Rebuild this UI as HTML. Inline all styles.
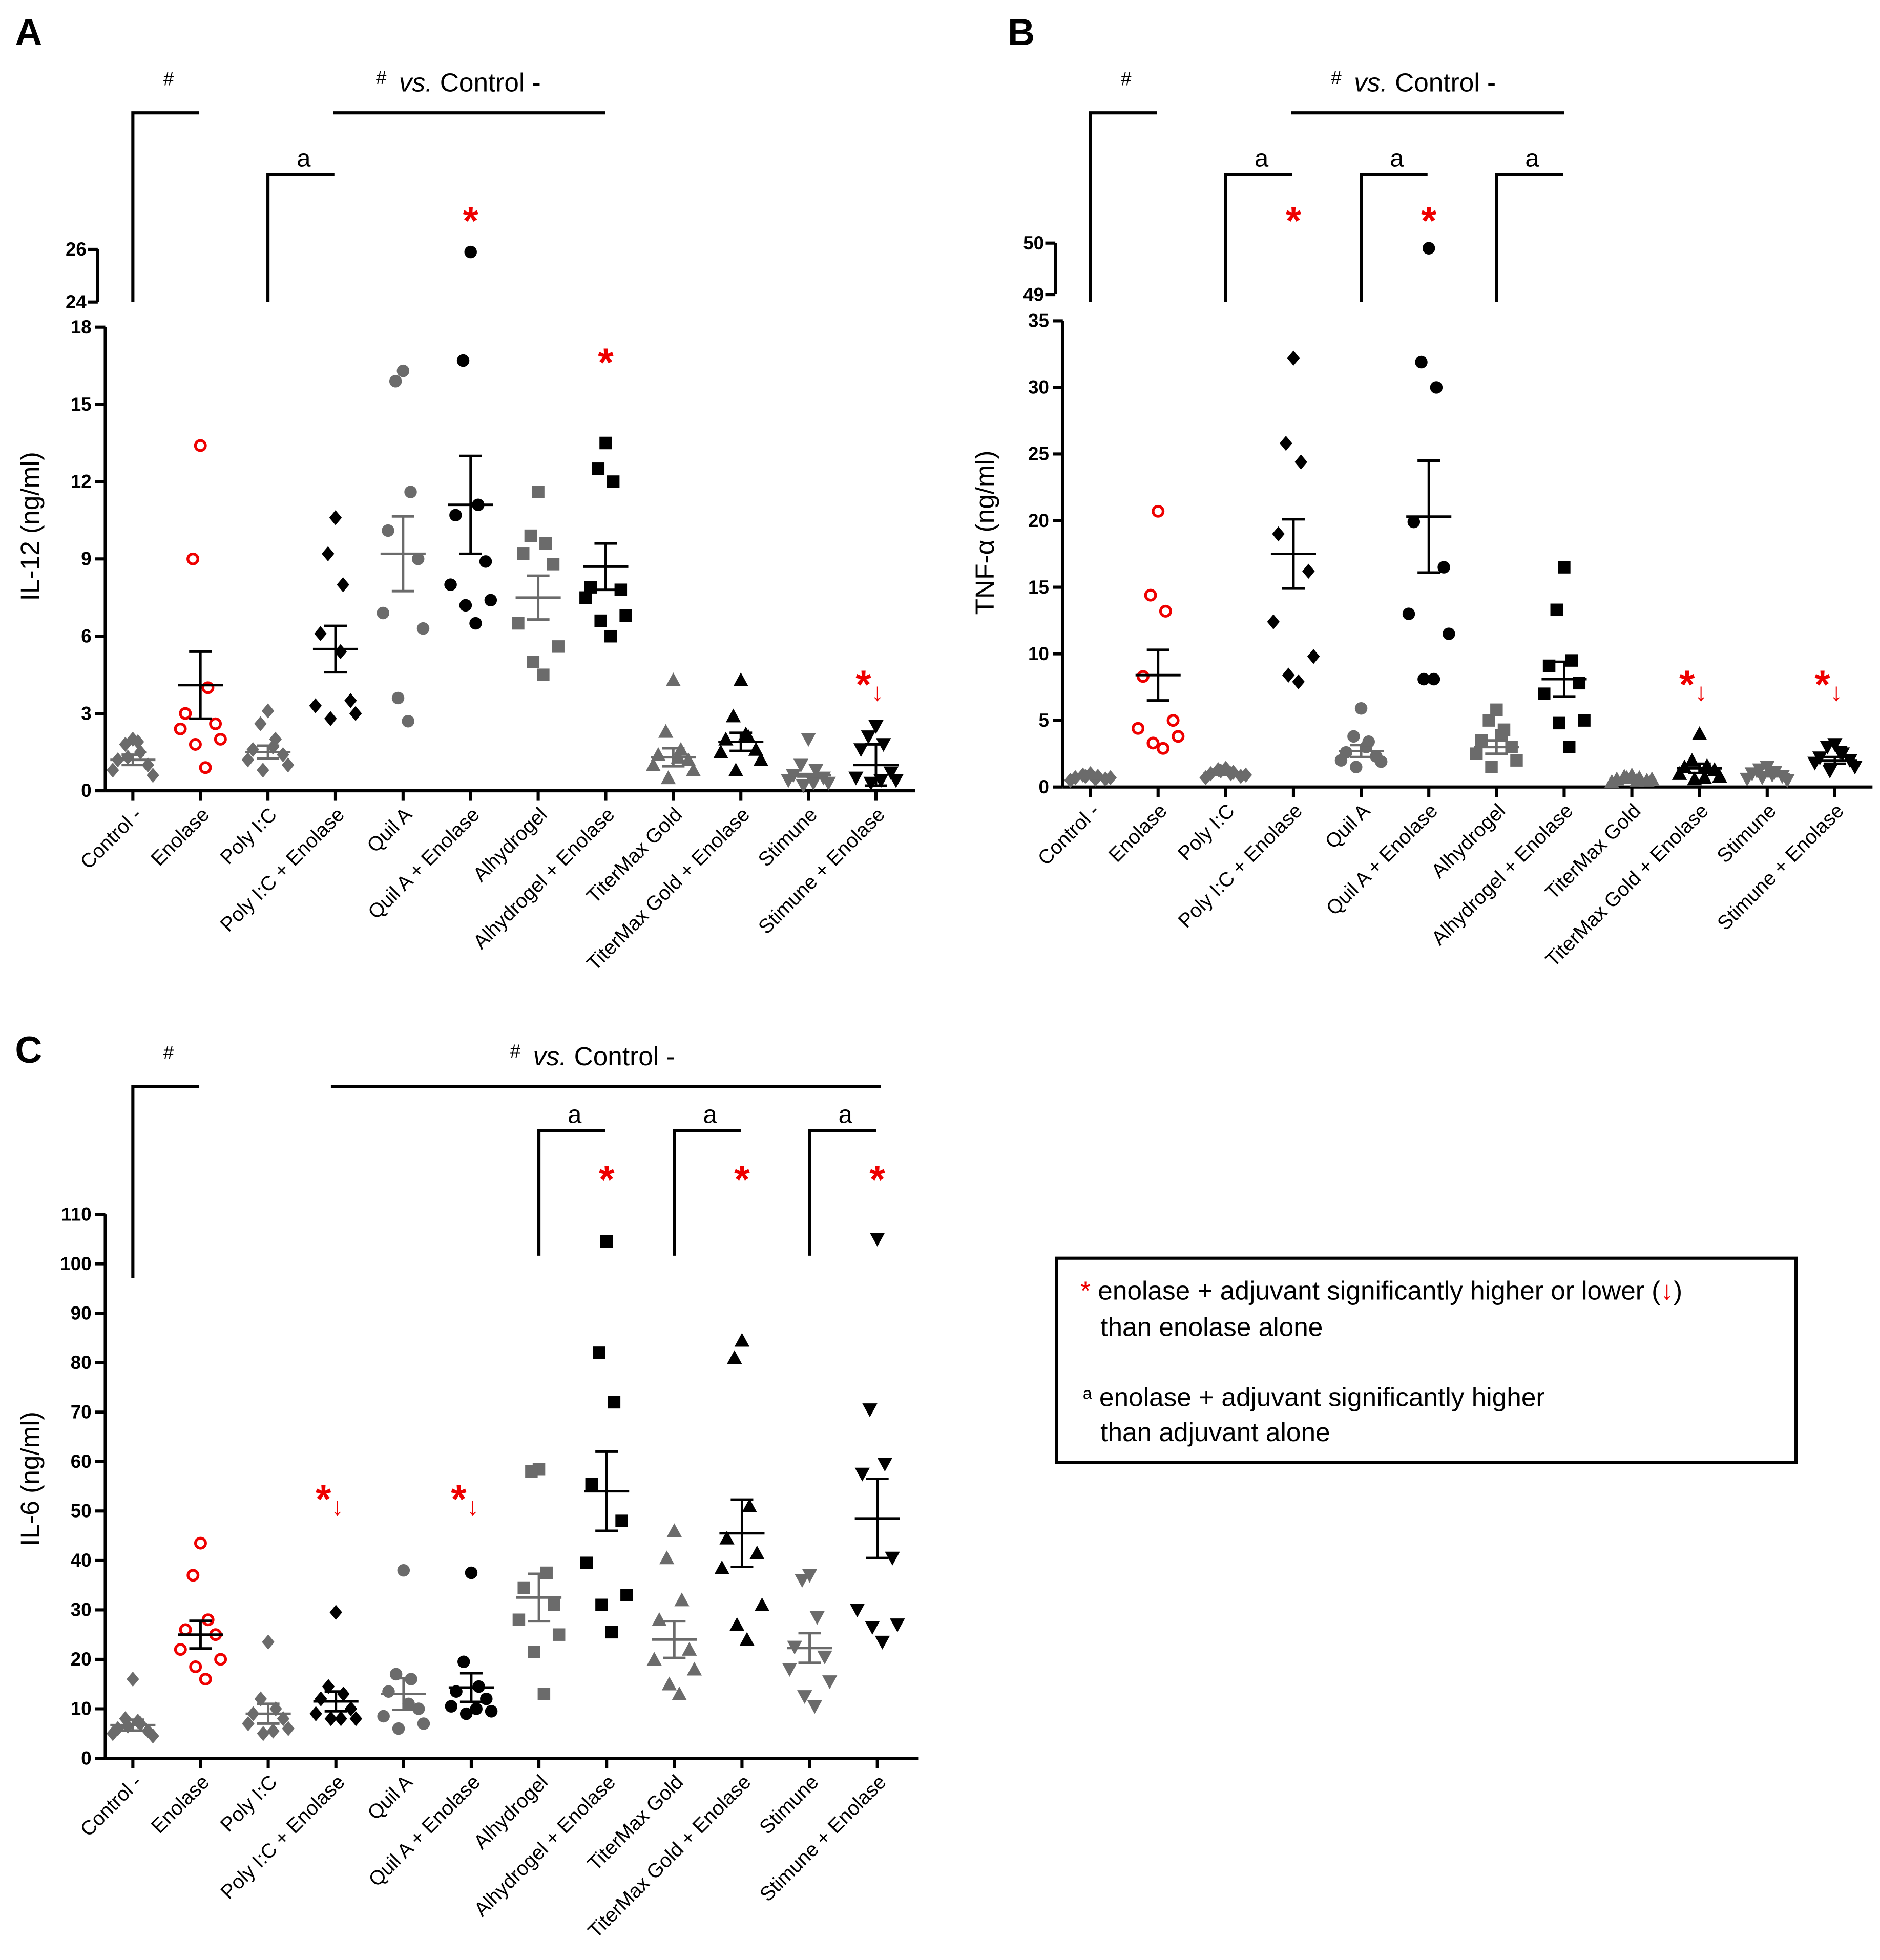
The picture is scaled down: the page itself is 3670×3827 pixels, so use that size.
<!DOCTYPE html>
<html><head><meta charset="utf-8"><style>
html,body{margin:0;padding:0;background:#fff;}
svg{display:block;font-family:"Liberation Sans",Arial,sans-serif;}
</style></head><body>
<svg id="fig" width="3670" height="3827" viewBox="0 0 1500 1564" preserveAspectRatio="none" xmlns="http://www.w3.org/2000/svg">
<rect x="0" y="0" width="1500" height="1564" fill="#fff"/>
<text x="12" y="36" font-size="30" font-weight="bold">A</text>
<text x="804" y="36" font-size="30" font-weight="bold">B</text>
<text x="12" y="848" font-size="30" font-weight="bold">C</text>
<g>
<rect x="843" y="1004" width="590" height="163" fill="none" stroke="#000" stroke-width="2.5"/>
<text x="862" y="1037" font-size="21"><tspan fill="#e00">*</tspan> enolase + adjuvant significantly higher or lower (<tspan fill="#e00">↓</tspan>)</text>
<text x="878" y="1066" font-size="21">than enolase alone</text>
<text x="864" y="1122" font-size="21"><tspan font-size="13" dy="-6">a</tspan><tspan dy="6"> enolase + adjuvant significantly higher</tspan></text>
<text x="878" y="1150" font-size="21">than adjuvant alone</text>
</g>
</svg>
<script>
const categories=["Control -","Enolase","Poly I:C","Poly I:C + Enolase","Quil A","Quil A + Enolase","Alhydrogel","Alhydrogel + Enolase","TiterMax Gold","TiterMax Gold + Enolase","Stimune","Stimune + Enolase"];
const markerShapes=["diamond","circle","diamond","diamond","circle","circle","square","square","tri","tri","itri","itri"];
const markerColors=["gray","red","gray","black","gray","black","gray","black","gray","black","gray","black"];
// IL-12
const il12Values=[[2.0,1.8,1.5,1.2,1.0,0.8,0.6,1.3,1.9],[13.4,9.0,4.0,3.0,2.6,2.4,2.0,1.8,0.9],[3.1,2.6,2.0,1.6,1.4,1.2,1.0,0.8,1.7],[10.6,9.2,8.0,6.1,3.5,3.3,3.0,2.8,5.4],[16.3,15.9,11.6,10.1,9.0,6.9,6.3,3.6,2.7],[25.9,16.7,11.1,10.7,8.9,8.0,7.4,7.2,6.5],[11.6,9.9,9.6,9.2,8.8,6.5,5.6,5.0,4.5],[13.5,12.5,12.0,7.9,7.8,7.5,6.8,6.6,6.0],[4.3,2.3,1.6,1.4,1.2,1.0,0.8,0.5,1.3],[4.3,2.9,2.1,2.0,1.6,1.5,1.2,0.8,2.2],[2.0,1.0,0.8,0.6,0.5,0.4,0.3,0.2,0.3],[2.5,2.1,1.8,1.6,0.7,0.5,0.4,0.3,0.4]];
const il12Means=[1.2,4.1,1.5,5.5,9.2,11.1,7.5,8.7,1.3,1.9,0.6,1.0];
const il12Sems=[0.2,1.3,0.25,0.9,1.45,1.9,0.85,0.9,0.35,0.35,0.05,0.8];
// TNF
const tnfValues=[[1.0,0.9,0.8,0.7,0.6,0.5,0.7,0.8,0.6],[20.7,14.4,13.2,8.3,5.0,4.4,3.8,3.3,2.9],[1.4,1.3,1.1,1.0,0.8,0.7,0.9,1.2,1.0],[32.2,25.8,24.4,19.0,16.2,12.4,9.8,8.4,7.9],[5.9,3.8,3.4,2.6,2.3,2.0,1.9,1.5,3.0],[49.9,31.9,30.0,19.9,16.5,13.0,11.5,8.1,8.1],[5.8,5.0,4.3,3.5,3.0,2.5,2.0,1.5,3.9],[16.5,13.3,9.5,9.1,7.8,7.0,5.0,4.8,3.0],[0.9,0.8,0.7,0.6,0.5,0.4,0.6,0.7,0.5],[4.0,2.0,1.6,1.5,1.3,1.0,0.8,0.6,0.7],[1.5,1.3,1.1,1.0,0.8,0.6,0.5,0.7,0.9],[3.2,3.0,2.5,2.2,2.0,1.8,1.5,1.2,2.6]];
const tnfMeans=[0.75,8.4,1.0,17.5,2.7,20.3,3.0,8.1,0.6,1.4,0.95,2.0];
const tnfSems=[0.1,1.9,0.1,2.6,0.45,4.2,0.5,1.3,0.1,0.35,0.15,0.25];
// IL-6
const il6Values=[[16,8,7,6,5.5,5,4.5,6.5,7.5],[43.5,37,28,26,25,22,20,18.5,16],[23.5,12,10,9,8,7,6,5,5.5],[29.5,14.5,13,12,10,9,8,8,8],[38,17,16,13.5,10,8.5,7,6,11],[37.5,19.5,14.5,13.5,12,10.5,9.5,9,10],[58.5,58,37.5,34.5,31,28,25,21.5,13],[104.5,82,72,55.5,48,39.5,33,31,25.5],[46,40.5,32,28,22,20,18,15,13],[84.5,81,51,44.5,41.5,38.5,31,27,24],[37,36,28.5,22.5,20.5,18,15.5,12.5,10.5],[105,70.5,59.5,57.5,40.5,30,27,26.5,23.5]];
const il6Means=[6.7,25,9,11.5,13,14.3,32.5,54,24,45.5,22.3,48.5];
const il6Sems=[1.1,2.8,2,2,3.2,2.9,4.8,8,3.7,6.8,3,8];
const il12Ticks=[0,3,6,9,12,15,18];
const il12UpperTicks=[24,26];
const tnfTicks=[0,5,10,15,20,25,30,35];
const tnfUpperTicks=[49,50];
const il6Ticks=[0,10,20,30,40,50,60,70,80,90,100,110];

const NS="http://www.w3.org/2000/svg";
const svg=document.getElementById("fig");
function el(tag,attrs,parent){const e=document.createElementNS(NS,tag);for(const k in attrs)e.setAttribute(k,attrs[k]);(parent||svg).appendChild(e);return e;}
const jit=[0,-6,6,-12,12,-16,16,-4,4];
const colorMap={gray:"#6b6b6b",black:"#000",red:"#e00"};

function marker(g,shape,col,x,y){
  const c=colorMap[col];const r=5;let m;
  if(shape==="circle"){ if(col==="red") m=el("circle",{cx:x,cy:y,r:4,fill:"none",stroke:c,"stroke-width":2.2},g); else m=el("circle",{cx:x,cy:y,r:r,fill:c},g);}
  else if(shape==="square") m=el("rect",{x:x-5,y:y-5,width:10,height:10,fill:c},g);
  else if(shape==="diamond") m=el("polygon",{points:`${x},${y-6} ${x+5},${y} ${x},${y+6} ${x-5},${y}`,fill:c},g);
  else if(shape==="tri") m=el("polygon",{points:`${x},${y-6} ${x+6},${y+5} ${x-6},${y+5}`,fill:c},g);
  else m=el("polygon",{points:`${x},${y+6} ${x+6},${y-5} ${x-6},${y-5}`,fill:c},g);
  
  
}

function panel(o){
  const g=el("g",{});
  
  
  const xOf=i=>o.x0+i*o.dx;
  const yOf=v=>(o.upper&&v>=o.upper.lo)?o.upper.y0-(v-o.upper.lo)*o.upper.k:o.y0-v*o.k;
  el("line",{x1:o.ax,y1:o.y0,x2:o.xEnd,y2:o.y0,stroke:"#000","stroke-width":2.5},g);
  el("line",{x1:o.ax,y1:o.y0,x2:o.ax,y2:yOf(o.ticks[o.ticks.length-1]),stroke:"#000","stroke-width":2.5},g);
  o.ticks.forEach(t=>{const y=yOf(t);el("line",{x1:o.ax-8,y1:y,x2:o.ax,y2:y,stroke:"#000","stroke-width":2.5},g);
    const tx=el("text",{x:o.ax-11,y:y+5,"font-size":15,"font-weight":"bold","text-anchor":"end"},g);tx.textContent=t;
    });
  if(o.upper){const ut=o.upperTicks;const ya=yOf(ut[0]),yb=yOf(ut[1]);
    el("line",{x1:o.ax-6,y1:ya,x2:o.ax-6,y2:yb,stroke:"#000","stroke-width":2.5},g);
    ut.forEach(t=>{const y=yOf(t);el("line",{x1:o.ax-14,y1:y,x2:o.ax-6,y2:y,stroke:"#000","stroke-width":2.5},g);
      const tx=el("text",{x:o.ax-15,y:y+5,"font-size":15,"font-weight":"bold","text-anchor":"end"},g);tx.textContent=t;
      });}
  const yl=el("text",{x:0,y:0,"font-size":21,"text-anchor":"middle",transform:`translate(${o.ylx},${o.yly}) rotate(-90)`},g);yl.textContent=o.ylabel;
  
  categories.forEach((c,i)=>{const x=xOf(i);
    el("line",{x1:x,y1:o.y0,x2:x,y2:o.y0+8,stroke:"#000","stroke-width":2.5},g);
    const tx=el("text",{x:0,y:0,"font-size":16,"text-anchor":"end",transform:`translate(${x+8},${o.y0+20}) rotate(-45)`},g);tx.textContent=c;
    
    o.values[i].forEach((v,j)=>marker(g,markerShapes[i],markerColors[i],x+jit[j],yOf(v)));
    const col=markerColors[i]==="gray"?"#6b6b6b":"#000";
    const m=o.means[i],s=o.sems[i];
    const eb=el("g",{},g);
    el("line",{x1:x-18,y1:yOf(m),x2:x+18,y2:yOf(m),stroke:col,"stroke-width":2},eb);
    el("line",{x1:x,y1:yOf(m+s),x2:x,y2:yOf(Math.max(0,m-s)),stroke:col,"stroke-width":2},eb);
    el("line",{x1:x-9,y1:yOf(m+s),x2:x+9,y2:yOf(m+s),stroke:col,"stroke-width":2},eb);
    el("line",{x1:x-9,y1:yOf(Math.max(0,m-s)),x2:x+9,y2:yOf(Math.max(0,m-s)),stroke:col,"stroke-width":2},eb);
  });
  o.brackets.forEach(b=>{const x1=xOf(b[0]),x2=xOf(b[0])+53;
    el("polyline",{points:`${x1},${b[2]} ${x1},${b[1]} ${x2},${b[1]}`,fill:"none",stroke:"#000","stroke-width":2.5},g);
    const t=el("text",{x:(x1+x2)/2+2,y:b[1]-(b[3]==="#"?22:6),"font-size":b[3]==="#"?15:20,"text-anchor":"middle"},g);t.textContent=b[3];
    });
  el("line",{x1:o.vs[0],y1:o.vs[2],x2:o.vs[1],y2:o.vs[2],stroke:"#000","stroke-width":2.5},g);
  const vt=el("text",{x:o.vs[3],y:o.vs[2]-17,"font-size":21},g);
  vt.innerHTML=`<tspan font-size="15" dy="-6">#</tspan><tspan dy="6" dx="10" font-style="italic">vs.</tspan><tspan> Control -</tspan>`;
  
  o.stars.forEach(s=>{const t=el("text",{x:xOf(s[0])-(s[2]?5:0),y:s[1]+4,"font-size":32,"font-weight":"bold",fill:"#e00","text-anchor":"middle"},g);
    t.innerHTML=s[2]?`*<tspan font-size="20" font-weight="normal" dy="2">↓</tspan>`:"*";
    });
}

panel({name:"panel-a-il12",x0:106,dx:53.9,ax:84,xEnd:730,y0:631,k:370/18,upper:{lo:24,y0:241,k:21},upperTicks:il12UpperTicks,
 ticks:il12Ticks,values:il12Values,means:il12Means,sems:il12Sems,ylabel:"IL-12 (ng/ml)",ylx:31,yly:420,
 brackets:[[0,90,241,"#"],[2,139,241,"a"]],vs:[266,483,90,300],stars:[[5,183,false],[7,296,false],[11,553,true]]});
panel({name:"panel-b-tnf",x0:870,dx:54,ax:848,xEnd:1494,y0:628,k:372/35,upper:{lo:49,y0:235,k:41},upperTicks:tnfUpperTicks,
 ticks:tnfTicks,values:tnfValues,means:tnfMeans,sems:tnfSems,ylabel:"TNF-α (ng/ml)",ylx:793,yly:425,
 brackets:[[0,90,241,"#"],[2,139,241,"a"],[4,139,241,"a"],[6,139,241,"a"]],vs:[1030,1248,90,1062],stars:[[3,183,false],[5,183,false],[9,553,true],[11,553,true]]});
panel({name:"panel-c-il6",x0:106,dx:54,ax:84,xEnd:733,y0:1403,k:434/110,upper:null,
 ticks:il6Ticks,values:il6Values,means:il6Means,sems:il6Sems,ylabel:"IL-6 (ng/ml)",ylx:31,yly:1180,
 brackets:[[0,867,1020,"#"],[6,902,1002,"a"],[8,902,1002,"a"],[10,902,1002,"a"]],vs:[264,703,867,407],stars:[[7,948,false],[9,948,false],[11,948,false],[3,1203,true],[5,1203,true]]});
</script>
</body></html>
